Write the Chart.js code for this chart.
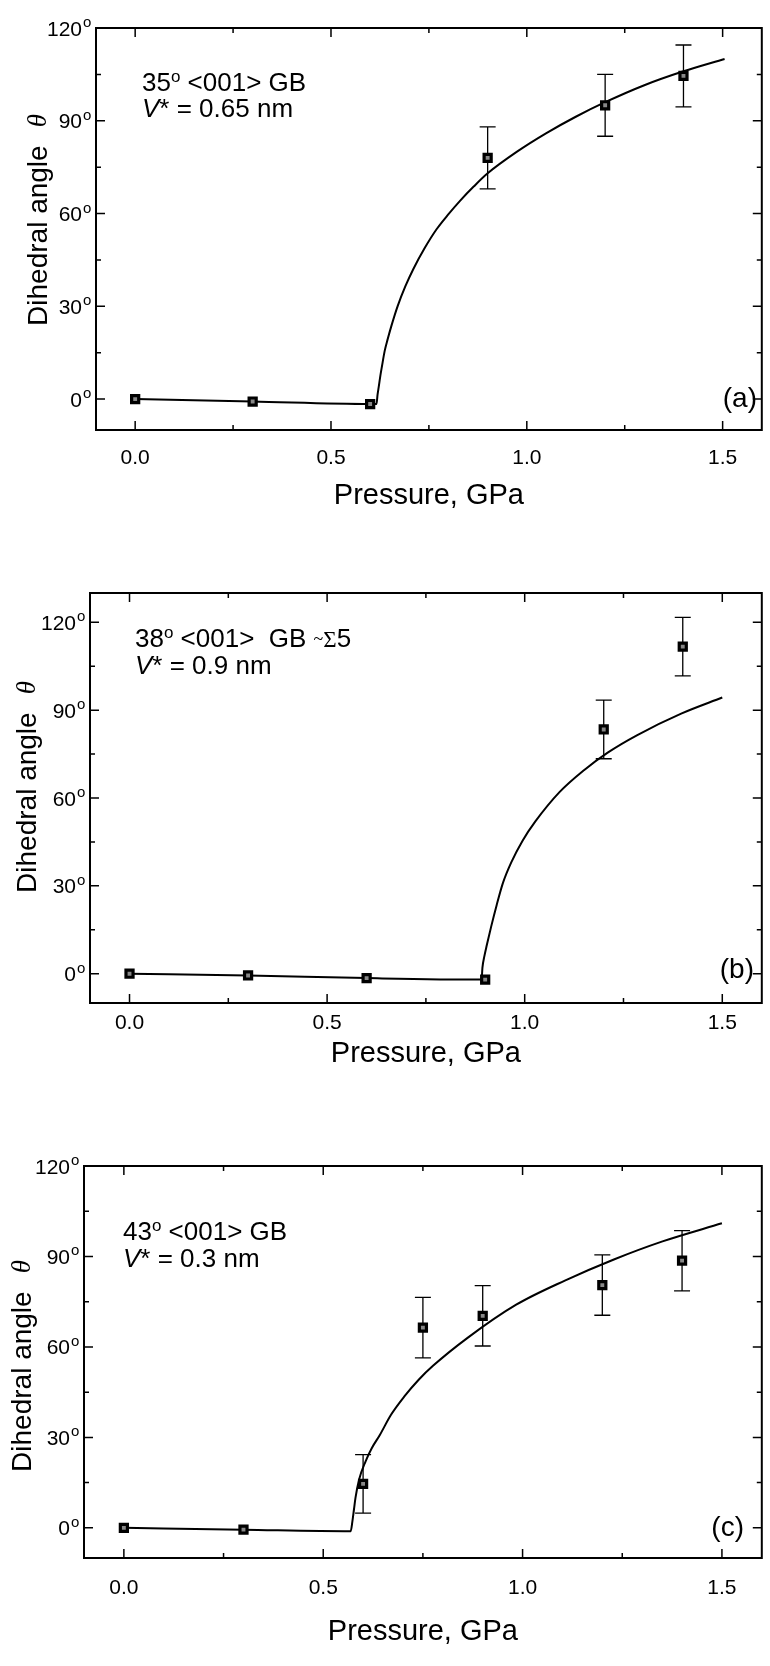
<!DOCTYPE html>
<html>
<head>
<meta charset="utf-8">
<title>Dihedral angle vs pressure</title>
<script src="https://cdn.jsdelivr.net/npm/chart.js@4.4.0/dist/chart.umd.min.js"></script>
<style>
  html, body { margin: 0; padding: 0; background: #fff; }
  #wrap { position: relative; width: 770px; height: 1666px; }
  #wrap canvas { position: absolute; left: 0; }
</style>
</head>
<body>
<div id="wrap">
  <canvas id="chartA" style="top:0px"></canvas>
  <canvas id="chartB" style="top:540px"></canvas>
  <canvas id="chartC" style="top:1100px"></canvas>
</div>
<script>
// ====================================
// DATA
// ====================================
const xTicks = [0, 0.25, 0.5, 0.75, 1.0, 1.25, 1.5];
const yTicks = [0, 15, 30, 45, 60, 75, 90, 105, 120];
const yLabelTicks = [0, 30, 60, 90, 120];

// (a) 35° <001> GB
const pressureA = [0, 0.3, 0.6, 0.9, 1.2, 1.4];
const angleA = [0, -0.8, -1.6, 78, 95, 104.5];
const errorA = [0, 0, 0, 10, 10, 10];
const fitPressureA = [0, 0.3, 0.6, 0.616, 0.619, 0.622, 0.626, 0.63, 0.637, 0.645, 0.655, 0.67, 0.69, 0.71, 0.74, 0.77, 0.8, 0.83, 0.865, 0.9, 0.975, 1.05, 1.125, 1.2, 1.3, 1.4, 1.505];
const fitAngleA = [0, -0.8, -1.6, -1.6, 1.5, 4, 7.5, 10.5, 15.5, 19.5, 24, 30, 36.5, 42, 49, 55, 59.8, 64.2, 68.8, 73, 80, 86, 91.3, 96, 101.5, 106, 110];

// (b) 38° <001> GB ~Σ5
const pressureB = [0, 0.3, 0.6, 0.9, 1.2, 1.4];
const angleB = [0, -0.6, -1.5, -2, 83.4, 111.7];
const errorB = [0, 0, 0, 0, 10, 10];
const fitPressureB = [0, 0.3, 0.6, 0.891, 0.893, 0.898, 0.904, 0.915, 0.929, 0.945, 0.966, 0.995, 1.027, 1.088, 1.15, 1.21, 1.285, 1.396, 1.5];
const fitAngleB = [0, -0.6, -1.5, -2, 2, 6, 9.7, 16, 23.4, 31, 38, 45.5, 52, 62, 69.5, 75.5, 81.5, 88.8, 94.3];

// (c) 43° <001> GB
const pressureC = [0, 0.3, 0.6, 0.75, 0.9, 1.2, 1.4];
const angleC = [0, -0.6, 14.6, 66.4, 70.3, 80.5, 88.6];
const errorC = [0, 0, 9.7, 10, 10, 10, 10];
const fitPressureC = [0, 0.3, 0.569, 0.573, 0.577, 0.581, 0.59, 0.606, 0.622, 0.642, 0.67, 0.703, 0.74, 0.776, 0.862, 0.984, 1.106, 1.229, 1.351, 1.5];
const fitAngleC = [0, -0.6, -1.1, 2, 6, 10, 16, 22, 26.5, 30.8, 37.5, 43.5, 49.2, 53.8, 63, 74, 82, 89, 95, 101];

// ====================================
// PANEL LAYOUT
// ====================================
const FONT = '"Liberation Sans", Arial, Helvetica, sans-serif';
const SERIF = '"Liberation Serif", "Times New Roman", serif';
const W = 770;

const panels = [
  {
    id: "chartA", height: 540,
    pressure: pressureA, angle: angleA, error: errorA, fitP: fitPressureA, fitA: fitAngleA,
    yMin: -10, yMax: 120,
    area: { left: 96, right: 767, top: 28, bottom: 430 },
    xLabelPad: 16, xTitlePad: 26.6,
    yTitle: { x: 39, y: 220 },
    letter: { text: "(a)", x: 757, y: 399 },
    notes: [
      { x: 142, y: 91, segs: [["35", "26px " + FONT, 0], ["o", "17px " + FONT, -9], [" <001> GB", "26px " + FONT, 0]] },
      { x: 142, y: 117, segs: [["V", "italic 26px " + FONT, 0], ["* = 0.65 nm", "26px " + FONT, 0]] },
    ],
  },
  {
    id: "chartB", height: 560,
    pressure: pressureB, angle: angleB, error: errorB, fitP: fitPressureB, fitA: fitAngleB,
    yMin: -10, yMax: 130,
    area: { left: 90, right: 767, top: 53, bottom: 463 },
    xLabelPad: 8, xTitlePad: 28.6,
    yTitle: { x: 28, y: 247 },
    letter: { text: "(b)", x: 754, y: 430 },
    notes: [
      { x: 135, y: 107, segs: [["38", "26px " + FONT, 0], ["o", "17px " + FONT, -9], [" <001>  GB ", "26px " + FONT, 0],
                               ["~", "18px " + SERIF, -2], ["Σ", "23px " + SERIF, 0], ["5", "26px " + FONT, 0]] },
      { x: 135, y: 134, segs: [["V", "italic 26px " + FONT, 0], ["* = 0.9 nm", "26px " + FONT, 0]] },
    ],
  },
  {
    id: "chartC", height: 566,
    pressure: pressureC, angle: angleC, error: errorC, fitP: fitPressureC, fitA: fitAngleC,
    yMin: -10, yMax: 120,
    area: { left: 84, right: 765, top: 66, bottom: 458 },
    xLabelPad: 18, xTitlePad: 16.6,
    yTitle: { x: 23, y: 266 },
    letter: { text: "(c)", x: 744, y: 428 },
    notes: [
      { x: 123, y: 140, segs: [["43", "26px " + FONT, 0], ["o", "17px " + FONT, -9], [" <001> GB", "26px " + FONT, 0]] },
      { x: 123, y: 167, segs: [["V", "italic 26px " + FONT, 0], ["* = 0.3 nm", "26px " + FONT, 0]] },
    ],
  },
];

function isMajorX(v) {
  return Math.abs(v * 2 - Math.round(v * 2)) < 1e-9;
}

// ====================================
// FRAME / TICKS / ERROR BARS PLUGIN
// ====================================
function framePlugin(p) {
  return {
    id: "frame" + p.id,
    beforeDatasetsDraw(chart) {
      const ctx = chart.ctx;
      const xs = chart.scales.x, ys = chart.scales.y;
      ctx.save();
      ctx.strokeStyle = "#000";
      ctx.lineWidth = 1.3;
      p.pressure.forEach(function (pr, i) {
        const e = p.error[i];
        if (!e) return;
        const x = xs.getPixelForValue(pr);
        const yHi = ys.getPixelForValue(p.angle[i] + e);
        const yLo = ys.getPixelForValue(p.angle[i] - e);
        ctx.beginPath();
        ctx.moveTo(x, yHi); ctx.lineTo(x, yLo);
        ctx.moveTo(x - 8, yHi); ctx.lineTo(x + 8, yHi);
        ctx.moveTo(x - 8, yLo); ctx.lineTo(x + 8, yLo);
        ctx.stroke();
      });
      ctx.restore();
    },
    afterDraw(chart) {
      const ctx = chart.ctx;
      const a = chart.chartArea;
      const xs = chart.scales.x, ys = chart.scales.y;
      ctx.save();
      ctx.strokeStyle = "#000";
      ctx.fillStyle = "#000";

      // box
      ctx.lineWidth = 2;
      ctx.strokeRect(a.left, a.top, a.right - a.left, a.bottom - a.top);

      // inward ticks
      ctx.lineWidth = 1.5;
      ctx.beginPath();
      xTicks.forEach(function (v) {
        const px = xs.getPixelForValue(v);
        const len = isMajorX(v) ? 9 : 5;
        ctx.moveTo(px, a.bottom); ctx.lineTo(px, a.bottom - len);
        ctx.moveTo(px, a.top); ctx.lineTo(px, a.top + len);
      });
      yTicks.forEach(function (v) {
        if (v < p.yMin || v > p.yMax) return;
        const py = ys.getPixelForValue(v);
        const len = v % 30 === 0 ? 9 : 5;
        ctx.moveTo(a.left, py); ctx.lineTo(a.left + len, py);
        ctx.moveTo(a.right, py); ctx.lineTo(a.right - len, py);
      });
      ctx.stroke();

      // y tick labels with superscript degree
      yLabelTicks.forEach(function (v) {
        if (v < p.yMin || v > p.yMax) return;
        const py = ys.getPixelForValue(v);
        ctx.font = "21px " + FONT;
        ctx.textAlign = "right";
        ctx.textBaseline = "alphabetic";
        ctx.fillText(String(v), a.left - 14, py + 7.5);
        ctx.font = "15px " + FONT;
        ctx.textAlign = "left";
        ctx.fillText("o", a.left - 13, py - 1);
      });

      // y title
      ctx.save();
      ctx.translate(p.yTitle.x, p.yTitle.y);
      ctx.rotate(-Math.PI / 2);
      ctx.textBaseline = "middle";
      ctx.textAlign = "left";
      ctx.font = "28px " + FONT;
      const w1 = ctx.measureText("Dihedral angle").width;
      ctx.font = "italic 27px " + SERIF;
      const w2 = ctx.measureText("θ").width;
      const gap = 18;
      const x0 = -(w1 + gap + w2) / 2;
      ctx.font = "28px " + FONT;
      ctx.fillText("Dihedral angle", x0, 0);
      ctx.font = "italic 27px " + SERIF;
      ctx.fillText("θ", x0 + w1 + gap, 0);
      ctx.restore();

      // annotation text
      ctx.textAlign = "left";
      ctx.textBaseline = "alphabetic";
      p.notes.forEach(function (line) {
        let x = line.x;
        line.segs.forEach(function (s) {
          ctx.font = s[1];
          ctx.fillText(s[0], x, line.y + s[2]);
          x += ctx.measureText(s[0]).width;
        });
      });

      // panel letter
      ctx.font = "28px " + FONT;
      ctx.textAlign = "right";
      ctx.textBaseline = "middle";
      ctx.fillText(p.letter.text, p.letter.x, p.letter.y);

      ctx.restore();
    },
  };
}

// ====================================
// CHARTS
// ====================================
function buildChart(p) {
  const canvas = document.getElementById(p.id);
  canvas.width = W;
  canvas.height = p.height;
  canvas.style.width = W + "px";
  canvas.style.height = p.height + "px";

  return new Chart(canvas.getContext("2d"), {
    type: "scatter",
    data: {
      datasets: [
        {
          label: "fit",
          data: p.fitP.map(function (x, i) { return { x: x, y: p.fitA[i] }; }),
          showLine: true,
          borderColor: "#000",
          borderWidth: 2,
          pointRadius: 0,
          fill: false,
          cubicInterpolationMode: "monotone",
          order: 2,
        },
        {
          label: "measured",
          data: p.pressure.map(function (x, i) { return { x: x, y: p.angle[i] }; }),
          pointStyle: "rect",
          pointRadius: 5,
          backgroundColor: "#888",
          borderColor: "#000",
          borderWidth: 3.2,
          order: 1,
        },
      ],
    },
    options: {
      responsive: false,
      animation: false,
      layout: { padding: { left: 0, top: p.area.top, right: W - p.area.right, bottom: 0 } },
      plugins: { legend: { display: false }, tooltip: { enabled: false } },
      scales: {
        x: {
          type: "linear",
          position: "bottom",
          min: -0.1,
          max: 1.6,
          grid: { display: false, drawTicks: false },
          border: { display: false },
          afterBuildTicks: function (s) {
            s.ticks = xTicks.map(function (v) { return { value: v }; });
          },
          afterFit: function (s) { s.height = p.height - p.area.bottom; },
          ticks: {
            autoSkip: false,
            maxRotation: 0,
            padding: p.xLabelPad,
            color: "#000",
            font: { family: FONT, size: 21 },
            callback: function (v) { return isMajorX(v) ? Number(v).toFixed(1) : ""; },
          },
          title: {
            display: true,
            text: "Pressure, GPa",
            color: "#000",
            font: { family: FONT, size: 29 },
            padding: { top: 0, bottom: p.xTitlePad },
          },
        },
        y: {
          type: "linear",
          min: p.yMin,
          max: p.yMax,
          grid: { display: false, drawTicks: false },
          border: { display: false },
          ticks: { display: false },
          afterFit: function (s) { s.width = p.area.left; },
        },
      },
    },
    plugins: [framePlugin(p)],
  });
}

panels.forEach(buildChart);
</script>
</body>
</html>
